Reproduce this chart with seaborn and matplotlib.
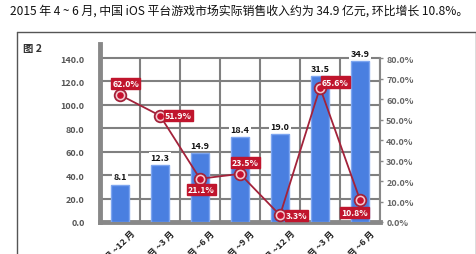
import numpy as np
import pandas as pd
import matplotlib
matplotlib.use("Agg")
import matplotlib.pyplot as plt
import matplotlib.transforms as mtransforms
from matplotlib.lines import Line2D
import seaborn as sns

sns.set_theme(style="white")
plt.rcParams['font.family'] = ['Noto Sans CJK SC', 'DejaVu Sans']

# ---------------- data ----------------
categories = ["2013 年 10 月 ~12 月", "2014 年 1 月 ~3 月", "2014 年 4 月 ~6 月",
              "2014 年 7 月 ~9 月", "2014 年 10 月 ~12 月", "2015 年 1 月 ~3 月",
              "2015 年 4 月 ~6 月"]
revenue = [8.1, 12.3, 14.9, 18.4, 19.0, 31.5, 34.9]
growth = [62.0, 51.9, 21.1, 23.5, 3.3, 65.6, 10.8]
left_ticks = [0, 20, 40, 60, 80, 100, 120, 140]
right_ticks = [0, 10, 20, 30, 40, 50, 60, 70, 80]
title = "2015 年 4 ~ 6 月, 中国 iOS 平台游戏市场实际销售收入约为 34.9 亿元, 环比增长 10.8%。"
fig_label = "图 2"

# label offsets (points) for percentage annotations
pct_offsets = [(4, 8), (13, 0), (1, -8), (4, 8), (12, 0), (11, 4), (-4, -9)]

W, H = 477, 255
fig = plt.figure(figsize=(W / 100, H / 100), dpi=100)
fig.patch.set_facecolor("white")

# title
fig.text(10 / W, 1 - 11 / H, title, fontsize=8.6, color="#111111",
         ha="left", va="center", family=['Noto Sans CJK SC', 'DejaVu Sans'])

# frame around chart
fc = "#555555"
fig.add_artist(Line2D([17 / W, 17 / W], [0, 1 - 33 / H], transform=fig.transFigure, color=fc, lw=1))
fig.add_artist(Line2D([17 / W, 476 / W], [1 - 33 / H, 1 - 33 / H], transform=fig.transFigure, color=fc, lw=1))
fig.add_artist(Line2D([476 / W, 476 / W], [0, 1 - 33 / H], transform=fig.transFigure, color=fc, lw=1))

fig.text(23 / W, 1 - 49 / H, fig_label, fontsize=7.5, fontweight="bold", color="#333333",
         ha="left", va="center")

ax_l, ax_r, ax_b, ax_t = 100 / W, 380 / W, 1 - 223 / H, 1 - 45 / H
ax = fig.add_axes([ax_l, ax_b, ax_r - ax_l, ax_t - ax_b])
ax.set_facecolor("none")
ymax_left = 152
ax.set_ylim(0, ymax_left)
ax.set_xlim(-0.5, len(categories) - 0.5)
ax.set_yticks(left_ticks)
ax.set_yticklabels([f"{v:.1f}" for v in left_ticks], fontsize=6.5, fontweight="bold", color="#555555")
ax.tick_params(axis="y", length=0, pad=11)
grid_c = "#808080"
for v in left_ticks[1:]:
    ax.axhline(v, color=grid_c, lw=1.5, zorder=0)
ax.vlines(np.arange(len(categories) - 1) + 0.5, 0, left_ticks[-1], color=grid_c, lw=1.5, zorder=0)
ax.vlines([len(categories) - 0.5], 0, left_ticks[-1], color=grid_c, lw=1.5, zorder=0)
for s in ["top", "right"]:
    ax.spines[s].set_visible(False)
ax.spines["left"].set_color("#888888")
ax.spines["left"].set_linewidth(3.5)
ax.spines["bottom"].set_color("#888888")
ax.spines["bottom"].set_linewidth(3.5)
ax.set_xticks(np.arange(len(categories)))
ax.set_xticklabels(categories, rotation=45, ha="right", rotation_mode="anchor",
                   fontsize=6.5, fontweight="bold", color="#222222")
ax.tick_params(axis="x", length=0, pad=0)
off = mtransforms.ScaledTranslation(10 / 100, -6 / 100, fig.dpi_scale_trans)
for lab in ax.get_xticklabels():
    lab.set_transform(lab.get_transform() + off)

# bars on their own hidden scale
axb = ax.twinx()
axb.set_ylim(0, 38.5)
df = pd.DataFrame({"cat": categories, "rev": revenue})
sns.barplot(data=df, x="cat", y="rev", ax=axb, color="#4a7fe0", width=0.45,
            edgecolor="#7ea6f0", linewidth=1.0, saturation=1)
axb.set_xlim(-0.5, len(categories) - 0.5)
axb.set_axis_off()
for i, v in enumerate(revenue):
    axb.annotate(f"{v:.1f}", (i, v), xytext=(0, 5.5), textcoords="offset points",
                 ha="center", va="center", fontsize=6.5, fontweight="bold", color="#111111",
                 bbox=dict(boxstyle="square,pad=0.15", fc="white", ec="none"))

# percentage line
ax2 = ax.twinx()
ax2.set_ylim(0, 80 * ymax_left / 140)
ax2.set_xlim(-0.5, len(categories) - 0.5)
ax2.set_yticks(right_ticks)
ax2.set_yticklabels([f"{v:.1f}%" for v in right_ticks], fontsize=6.5, fontweight="bold", color="#666666")
ax2.tick_params(axis="y", length=2.5, width=1, color="#888888", pad=2)
for s in ["top", "left", "bottom"]:
    ax2.spines[s].set_visible(False)
ax2.spines["right"].set_bounds(0, 80)
ax2.spines["right"].set_color("#888888")
ax2.spines["right"].set_linewidth(1.5)
xs = np.arange(len(categories))
sns.lineplot(x=xs, y=growth, ax=ax2, color="#a3223a", lw=1.3)
ax2.scatter(xs, growth, s=70, facecolor="#f3c9cf", edgecolor="#a3223a", linewidth=1.3, zorder=4)
ax2.scatter(xs, growth, s=14, color="#c8102e", zorder=5)
for i, v in enumerate(growth):
    ax2.annotate(f"{v:.1f}%", (i, v), xytext=pct_offsets[i], textcoords="offset points",
                 ha="center", va="center", fontsize=6.3, fontweight="bold", color="white",
                 bbox=dict(boxstyle="square,pad=0.12", fc="#c0152d", ec="#c0152d"), zorder=6)

fig.savefig("out.png", dpi=100)
